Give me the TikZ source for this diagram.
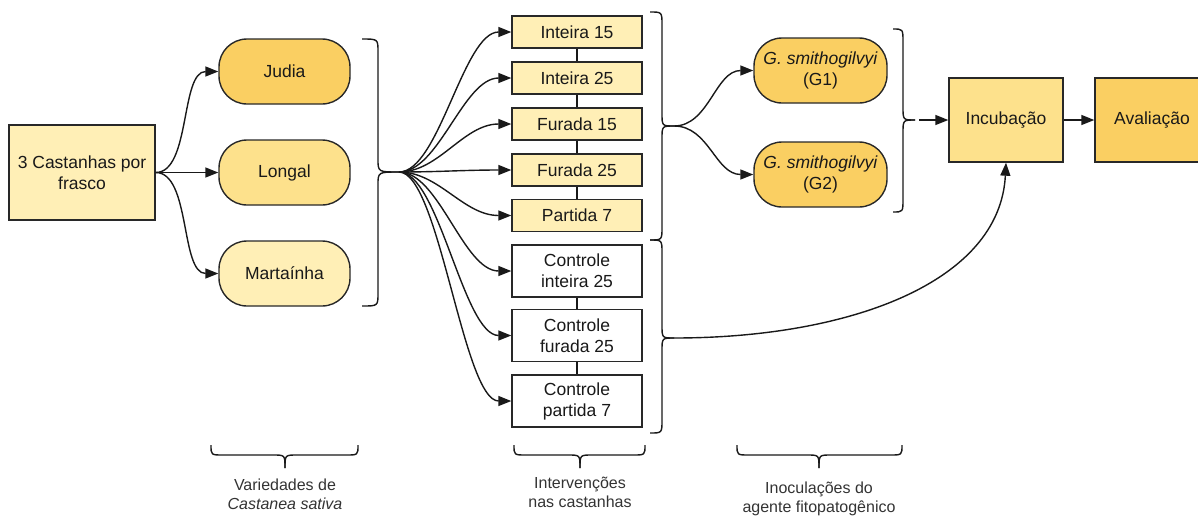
\documentclass[tikz,border=0pt]{standalone}
\usepackage{fontspec}
\setmainfont{Liberation Sans}
\usetikzlibrary{arrows.meta}
\definecolor{ydark}{RGB}{250,207,98}
\definecolor{ymid}{RGB}{253,225,140}
\definecolor{ylight}{RGB}{255,239,182}
\definecolor{edgec}{RGB}{40,40,40}
\newcommand{\rbrc}[6]{% xe, xv, ymin, ymid, ymax, tip
  \draw[bracel] (#1,#3) .. controls (#2,#3) .. (#2,#3+13) -- (#2,#4-13) .. controls (#2,#4) .. (#6);
  \draw[bracel] (#1,#5) .. controls (#2,#5) .. (#2,#5-13) -- (#2,#4+13) .. controls (#2,#4) .. (#6);}
\newcommand{\dbrc}[4]{% xl, xm, xr, ytop
  \draw[bracel] (#1,#4) .. controls (#1,#4+10) .. (#1+12,#4+10) -- (#2-12,#4+10) .. controls (#2,#4+10) .. (#2,#4+23);
  \draw[bracel] (#3,#4) .. controls (#3,#4+10) .. (#3-12,#4+10) -- (#2+12,#4+10) .. controls (#2,#4+10) .. (#2,#4+23);}
\begin{document}
\begin{tikzpicture}[x=1pt,y=-1pt,
  box/.style={draw=edgec,line width=1.4pt,inner sep=0pt,align=center,
    text=black!90,font=\fontsize{17.5}{21}\selectfont},
  pill/.style={box,rounded corners=28pt,minimum width=131pt,minimum height=65pt},
  mbox/.style={box,minimum width=130pt,minimum height=32pt,fill=ylight},
  cbox/.style={box,minimum width=130pt,minimum height=52pt,fill=white},
  arr/.style={line width=1.4pt,draw=black!90,-{Triangle[length=13pt,width=10pt]}},
  bracel/.style={line width=1.4pt,draw=black!90,line join=round},
  conn/.style={line width=1.1pt,draw=black!90},
  lbl/.style={font=\fontsize{16}{19}\selectfont,align=center,text=black!80}]
\useasboundingbox (0,0) rectangle (1198,515);

% source
\node[box,fill=ylight,minimum width=146pt,minimum height=95pt] (src) at (82,172.5) {3 Castanhas por\\frasco};

% varieties
\node[pill,fill=ydark] (judia) at (284.5,71.5) {Judia};
\node[pill,fill=ymid] (longal) at (284.5,172.5) {Longal};
\node[pill,fill=ylight] (mart) at (284.5,273.5) {Martaínha};

\draw[arr] (src.east) .. controls +(35,0) and +(-38,0) .. (judia.west);
\draw[arr] (src.east) -- (longal.west);
\draw[arr] (src.east) .. controls +(35,0) and +(-38,0) .. (mart.west);

% interventions
\node[mbox] (i15) at (577,32) {Inteira 15};
\node[mbox] (i25) at (577,78) {Inteira 25};
\node[mbox] (f15) at (577,124) {Furada 15};
\node[mbox] (f25) at (577,170) {Furada 25};
\node[mbox] (p7) at (577,215.5) {Partida 7};
\node[cbox] (ci) at (577,271) {Controle\\inteira 25};
\node[cbox] (cf) at (577,335.5) {Controle\\furada 25};
\node[cbox] (cp) at (577,401) {Controle\\partida 7};

\draw[conn] (i15.south) -- (i25.north);
\draw[conn] (i25.south) -- (f15.north);
\draw[conn] (f15.south) -- (f25.north);
\draw[conn] (f25.south) -- (p7.north);
\draw[conn] (ci.south) -- (cf.north);
\draw[conn] (cf.south) -- (cp.north);

% brace after varieties
\coordinate (bA) at (399,172);
\rbrc{362}{378}{39}{172}{306}{bA}
\foreach \n in {i15,i25,f15,f25,p7,ci,cf,cp}
  \draw[arr] (bA) .. controls +(40,0) and +(-48,0) .. (\n.west);

% inoculations
\node[pill,fill=ydark,minimum width=133pt] (g1) at (820.5,70.5) {\textit{G. smithogilvyi}\\(G1)};
\node[pill,fill=ydark,minimum width=133pt] (g2) at (820.5,174.5) {\textit{G. smithogilvyi}\\(G2)};

\coordinate (bB) at (674,126);
\rbrc{650}{662}{12}{126}{240}{bB}
\coordinate (bC) at (674,338);
\rbrc{650}{662}{240}{338}{433}{bC}

\draw[arr] (bB) .. controls +(35,0) and +(-38,0) .. (g1.west);
\draw[arr] (bB) .. controls +(35,0) and +(-38,0) .. (g2.west);

% incubation / evaluation
\node[box,fill=ymid,minimum width=114pt,minimum height=84pt] (inc) at (1006,120) {Incubação};
\node[box,fill=ydark,minimum width=114pt,minimum height=84pt] (aval) at (1152,120) {Avaliação};

\coordinate (bD) at (915,120);
\rbrc{893}{903}{29}{120}{212}{bD}
\draw[arr,shorten <=4pt] (bD) -- (inc.west);
\draw[arr] (inc.east) -- (aval.west);
\draw[arr] (bC) .. controls (850,338) and (1000,282) .. (inc.south);

% bottom braces and labels
\dbrc{211}{285}{358}{445}
\dbrc{514}{580}{645}{445}
\dbrc{737}{819}{902}{445}
\node[lbl] (l1) at (285,494) {Variedades de\\\textit{Castanea sativa}};
\node[lbl] (l2) at (580,492) {Intervenções\\nas castanhas};
\node[lbl] (l3) at (819,499) {Inoculações do\\agente fitopatogênico};
\end{tikzpicture}
\end{document}
